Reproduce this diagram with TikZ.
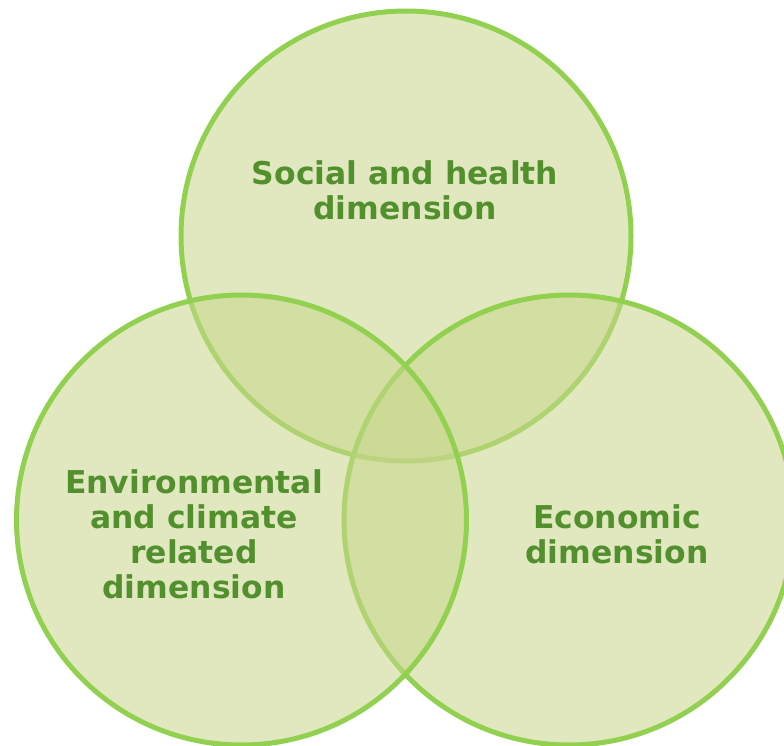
\documentclass[tikz,border=0pt]{standalone}
\usepackage{fontspec}
\setmainfont{DejaVu Sans}
\definecolor{ringgreen}{RGB}{146,208,80}
\definecolor{fillgreen}{RGB}{200,214,140}
\definecolor{textgreen}{RGB}{82,143,45}
\tikzset{
  ring/.style={draw=ringgreen, line width=5pt, fill=fillgreen, fill opacity=0.55},
  label/.style={align=center, text=textgreen, font=\bfseries\fontsize{31.4}{35}\selectfont, inner sep=0pt}
}
\begin{document}
\begin{tikzpicture}[x=1pt,y=-1pt]
\useasboundingbox (0,0) rectangle (784,746);
\clip (0,0) rectangle (784,746);
\path[ring] (406,236) circle[radius=225];
\path[ring] (569,520) circle[radius=225];
\path[ring] (241.5,520) circle[radius=225];
\node[label] (social) at (405,190) {Social and health\\dimension};
\node[label] (env) at (194,534) {Environmental\\and climate\\related\\dimension};
\node[label] (econ) at (617,534) {Economic\\dimension};
\end{tikzpicture}
\end{document}
